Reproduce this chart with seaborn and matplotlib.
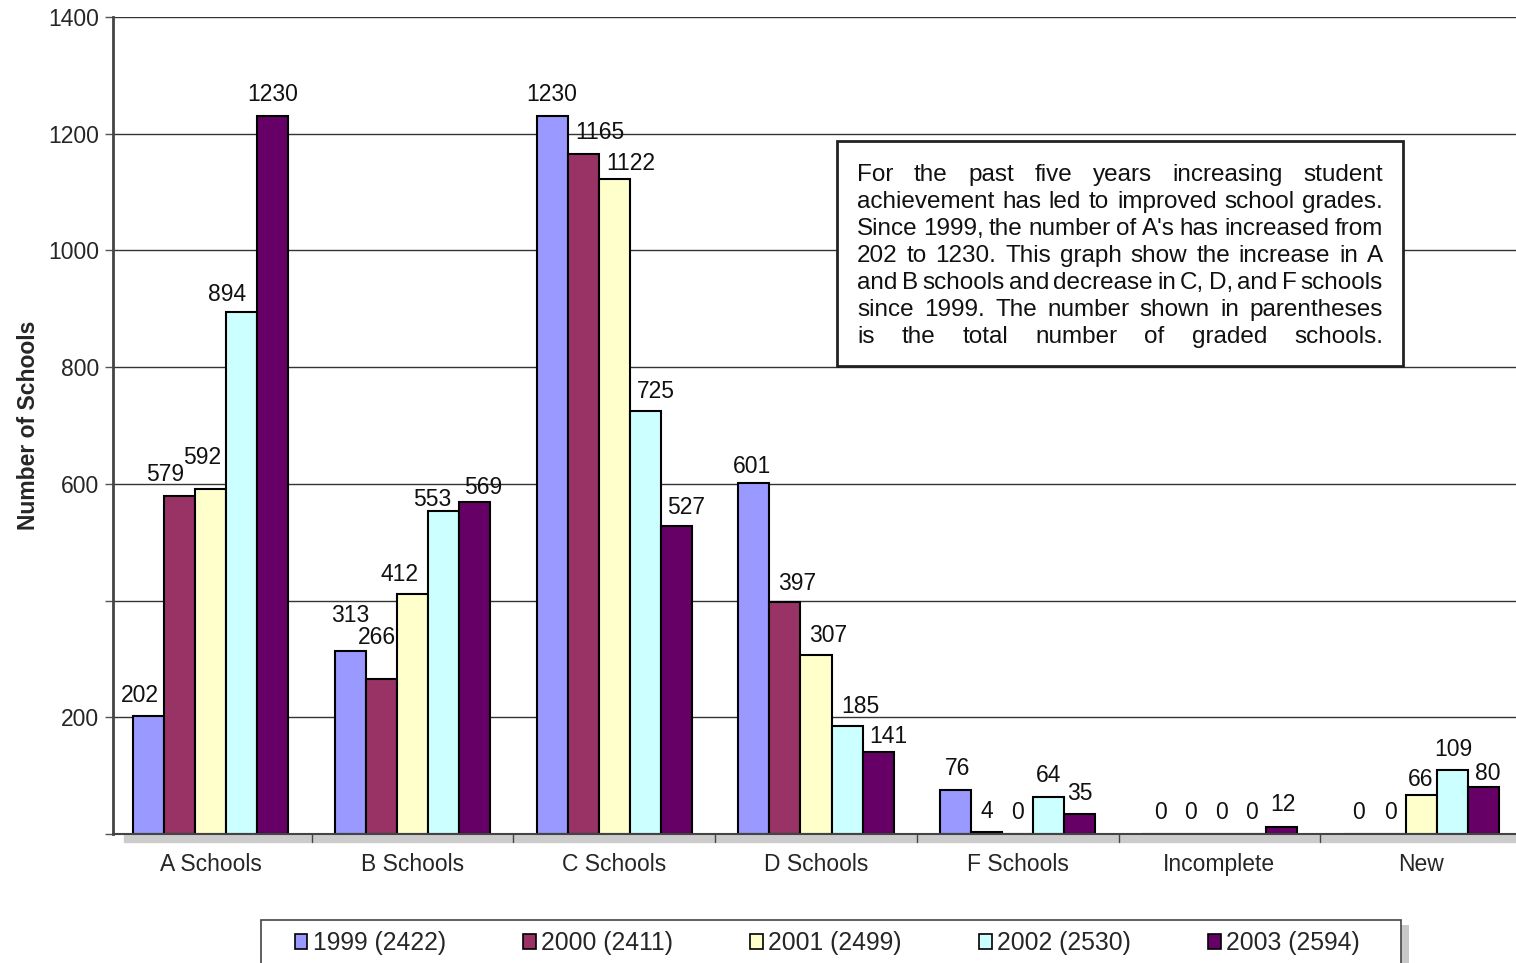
import pandas as pd
import matplotlib
matplotlib.use('Agg')
import matplotlib.pyplot as plt
import seaborn as sns
from matplotlib.patches import Rectangle

categories = ['A Schools', 'B Schools', 'C Schools', 'D Schools', 'F Schools', 'Incomplete', 'New']
series = ['1999 (2422)', '2000 (2411)', '2001 (2499)', '2002 (2530)', '2003 (2594)']
v1999 = [202, 313, 1230, 601, 76, 0, 0]
v2000 = [579, 266, 1165, 397, 4, 0, 0]
v2001 = [592, 412, 1122, 307, 0, 0, 66]
v2002 = [894, 553, 725, 185, 64, 0, 109]
v2003 = [1230, 569, 527, 141, 35, 12, 80]
colors = ['#9999FF', '#993366', '#FFFFCC', '#CCFFFF', '#660066']
yticks = [0, 200, 400, 600, 800, 1000, 1200, 1400]
ytick_labels = ['', '200', '', '600', '800', '1000', '1200', '1400']

# label nudges in pixels (horizontal shift, height of label centre above bar top), per series
lab_dx = [[-9, 0, 0, -2, 2, 3, 0],
          [-15, -5, 17, 12, 0, 2, 0],
          [-9, -13, 16, 12, 0, 2, 0],
          [-15, -11, 11, 13, 0, 1, 1],
          [0, 9, 10, 10, 0, 1, 5]]
lab_dy = [[21, 36, 22, 17, 21, 22, 22],
          [22, 41, 22, 19, 20, 22, 22],
          [31, 19, 16, 19, 22, 22, 16],
          [18, 12, 19, 20, 21, 22, 21],
          [22, 14, 19, 15, 20, 22, 14]]

note_lines = [
    "For the past five years increasing student",
    "achievement has led to improved school grades.",
    "Since 1999, the number of A's has increased from",
    "202 to 1230.  This graph show the increase in A",
    "and B schools and decrease in C, D, and F schools",
    "since 1999.  The number shown in parentheses",
    "is the total number of graded schools.",
]

rows = []
for s, vals in zip(series, [v1999, v2000, v2001, v2002, v2003]):
    for c, v in zip(categories, vals):
        rows.append({'cat': c, 'year': s, 'n': v})
df = pd.DataFrame(rows)

sns.set_style('white')
plt.rcParams['font.family'] = ['Liberation Sans', 'DejaVu Sans']

W, H = 1516, 963
fig = plt.figure(figsize=(W / 100, H / 100), dpi=100)


def fx(px):
    return px / W


def fy(py):
    return 1 - py / H


ax = fig.add_axes([fx(113), fy(834), 1412 / W, 817 / H])

sns.barplot(data=df, x='cat', y='n', hue='year', order=categories, hue_order=series,
            palette=colors, width=0.77, gap=0, edgecolor='black', linewidth=1.5,
            saturation=1, ax=ax, legend=True)

# data labels (pixel nudges converted to points)
for k, cont in enumerate(ax.containers):
    for j, bar in enumerate(cont):
        xc = bar.get_x() + bar.get_width() / 2
        ht = bar.get_height()
        ax.annotate(f'{ht:.0f}', xy=(xc, ht), xytext=(lab_dx[k][j] * 0.72, lab_dy[k][j] * 0.72),
                    textcoords='offset points', ha='center', va='center', fontsize=16.5,
                    color='#111111')

ax.set_xlim(-0.485, 6.515)
ax.set_ylim(0, 1400)
ax.set_yticks(yticks)
ax.set_yticklabels(ytick_labels, fontsize=16.5)
ax.yaxis.grid(True, color='#333333', linewidth=1)
ax.set_axisbelow(True)
ax.tick_params(axis='y', direction='out', length=6, width=1, color='#555555', left=True, pad=4)
ax.tick_params(axis='x', labelsize=16.5, length=0, pad=14)
ax.set_xlabel('')
ax.set_ylabel('Number of Schools', fontsize=16.5, fontweight='bold')
ax.yaxis.set_label_coords(-0.052, 0.5)
for side in ['top', 'right']:
    ax.spines[side].set_visible(False)
ax.spines['left'].set_color('#444444')
ax.spines['left'].set_linewidth(2)
ax.spines['bottom'].set_color('#444444')
ax.spines['bottom'].set_linewidth(1.5)

# category separator ticks and floor shadow
for i in range(len(categories)):
    ax.plot([i + 0.5, i + 0.5], [0, -14], color='#444444', lw=1, clip_on=False)
ax.add_patch(Rectangle((-0.43, -14), 7.0, 14, transform=ax.transData,
                       color='#cccccc', clip_on=False, zorder=0.5))

# annotation box with justified text
fig.add_artist(Rectangle((fx(837), fy(366)), fx(1403) - fx(837), fy(141) - fy(366),
                         transform=fig.transFigure, facecolor='white', edgecolor='#222222',
                         linewidth=2, zorder=5))
renderer = fig.canvas.get_renderer()
note_fs = 17.45
left, right = 857, 1383
for k, line in enumerate(note_lines):
    words = line.split()
    widths = []
    for w in words:
        t = fig.text(0, 0, w, fontsize=note_fs)
        widths.append(t.get_window_extent(renderer).width)
        t.remove()
    gap = max((right - left - sum(widths)) / (len(words) - 1), 4)
    x = left
    base = 181 + 27 * k
    for w, wd in zip(words, widths):
        fig.text(fx(x), fy(base), w, fontsize=note_fs, ha='left', va='baseline',
                 color='#111111', zorder=6)
        x += wd + gap

# legend with hand-drawn frame and shadow
h, l = ax.get_legend_handles_labels()
ax.get_legend().remove()
fig.add_artist(Rectangle((fx(1401), fy(H + 5)), fx(8), fy(925) - fy(H + 5),
                         transform=fig.transFigure, facecolor='#c8c8c8', edgecolor='none'))
fig.add_artist(Rectangle((fx(261), fy(H + 5)), fx(1401) - fx(261), fy(920) - fy(H + 5),
                         transform=fig.transFigure, facecolor='white', edgecolor='#444444',
                         linewidth=1.2))
leg = fig.legend(h, l, loc='center left', bbox_to_anchor=(fx(295), fy(943)), ncol=5,
                 fontsize=17.8, frameon=False, borderpad=0, borderaxespad=0,
                 handlelength=0.5, handleheight=0.55, handletextpad=0.22, columnspacing=3.13)
for p in leg.get_patches():
    p.set_edgecolor('black')
    p.set_linewidth(1.2)

fig.savefig('out.png', dpi=100)
